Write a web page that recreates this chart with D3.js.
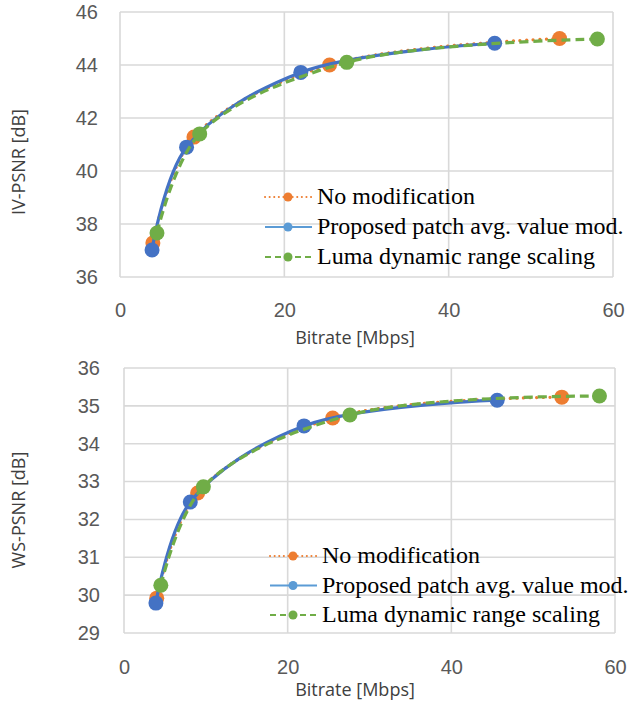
<!DOCTYPE html>
<html>
<head>
<meta charset="utf-8">
<script src="https://cdn.jsdelivr.net/npm/d3@7"></script>
<style>
  body { margin: 0; background: #fff; }
  svg { display: block; }
</style>
</head>
<body>
<div id="chartWrap"></div>
<script>
// series names (legend order) and colours
const seriesNames = ['No modification', 'Proposed patch avg. value mod.', 'Luma dynamic range scaling'];
const seriesColors = ['#ED7D31', '#4472C4', '#70AD47'];
const legendColors = ['#ED7D31', '#5B9BD5', '#70AD47'];
const seriesDash = ['0.1 6.5', null, '9 5'];

// bitrates [Mbps], same encodes for both metrics
const rateNoMod = [4.0, 9.0, 25.5, 53.5];
const rateProposed = [3.9, 8.1, 22.0, 45.6];
const rateLuma = [4.5, 9.7, 27.6, 58.1];

// IV-PSNR [dB]
const ivNoMod = [37.28, 41.28, 44.0, 45.0];
const ivProposed = [37.02, 40.9, 43.72, 44.82];
const ivLuma = [37.66, 41.4, 44.1, 44.98];

// WS-PSNR [dB]
const wsNoMod = [29.92, 32.7, 34.68, 35.23];
const wsProposed = [29.79, 32.46, 34.47, 35.15];
const wsLuma = [30.26, 32.86, 34.76, 35.26];

// tick values
const xTicks = [0, 20, 40, 60];
const ivTicks = [36, 38, 40, 42, 44, 46];
const wsTicks = [29, 30, 31, 32, 33, 34, 35, 36];

const rates = [rateNoMod, rateProposed, rateLuma];

const svg = d3
  .select('#chartWrap')
  .append('svg')
  .attr('width', 631)
  .attr('height', 704);

function drawChart(opt) {
  const x = d3.scaleLinear().domain([0, 60]).range([opt.left, opt.right]);
  const y = d3.scaleLinear().domain(opt.yDomain).range([opt.bottom, opt.top]);
  const g = svg.append('g');

  // grid (also draws the frame)
  g.append('g')
    .selectAll('line')
    .data(opt.yTicks)
    .enter()
    .append('line')
    .attr('x1', opt.left)
    .attr('x2', opt.right)
    .attr('y1', (d) => y(d))
    .attr('y2', (d) => y(d))
    .style('stroke', '#D9D9D9')
    .style('stroke-width', 1.6);
  g.append('g')
    .selectAll('line')
    .data(xTicks)
    .enter()
    .append('line')
    .attr('x1', (d) => x(d))
    .attr('x2', (d) => x(d))
    .attr('y1', opt.top)
    .attr('y2', opt.bottom)
    .style('stroke', '#D9D9D9')
    .style('stroke-width', 1.6);

  // axes: labels only
  const yAxis = g.append('g')
    .attr('transform', `translate(${opt.left},0)`)
    .call(d3.axisLeft(y).tickValues(opt.yTicks).tickFormat(d3.format('d')).tickSize(0).tickPadding(opt.yPad));
  yAxis.select('.domain').remove();
  const xAxis = g.append('g')
    .attr('transform', `translate(0,${opt.bottom})`)
    .call(d3.axisBottom(x).tickValues(xTicks).tickFormat(d3.format('d')).tickSize(0).tickPadding(opt.xPad));
  xAxis.select('.domain').remove();
  g.selectAll('.tick text')
    .style('font-family', '"Liberation Sans", Arial, sans-serif')
    .style('font-size', '20px')
    .style('fill', '#595959');

  // axis titles
  g.append('text')
    .attr('x', opt.xTitleX)
    .attr('y', opt.xTitleY)
    .attr('text-anchor', 'middle')
    .style('font-family', '"Open Sans", sans-serif')
    .style('font-size', '18px')
    .style('fill', '#404040')
    .text('Bitrate [Mbps]');
  g.append('text')
    .attr('transform', `translate(25,${opt.yTitleY}) rotate(-90)`)
    .attr('text-anchor', 'middle')
    .style('font-family', '"Open Sans", sans-serif')
    .style('font-size', '18px')
    .style('fill', '#404040')
    .text(opt.yTitle);

  // series
  const line = d3.line()
    .x((d) => x(d[0]))
    .y((d) => y(d[1]))
    .curve(d3.curveCatmullRom.alpha(0.5));

  opt.values.forEach((vals, i) => {
    const pts = rates[i].map((r, k) => [r, vals[k]]);
    const s = g.append('g');
    s.append('path')
      .datum(pts)
      .attr('d', line)
      .style('fill', 'none')
      .style('stroke', seriesColors[i])
      .style('stroke-width', 3.2)
      .style('stroke-linecap', i === 0 ? 'round' : 'butt')
      .style('stroke-dasharray', seriesDash[i]);
    s.selectAll('circle')
      .data(pts)
      .enter()
      .append('circle')
      .attr('cx', (d) => x(d[0]))
      .attr('cy', (d) => y(d[1]))
      .attr('r', 7.5)
      .style('fill', seriesColors[i]);
  });

  // legend
  const lg = g.append('g')
    .attr('transform', `translate(${opt.legendX},${opt.legendY})`);
  seriesNames.forEach((name, i) => {
    const row = lg.append('g').attr('transform', `translate(0,${i * opt.legendDy})`);
    row.append('line')
      .attr('x1', 0)
      .attr('x2', 47)
      .style('stroke', legendColors[i])
      .style('stroke-width', 2)
      .style('stroke-linecap', i === 0 ? 'round' : 'butt')
      .style('stroke-dasharray', i === 0 ? '0.1 4.5' : (i === 2 ? '6 4' : null));
    row.append('circle')
      .attr('cx', 23)
      .attr('r', 4.5)
      .style('fill', legendColors[i]);
    row.append('text')
      .attr('x', 52)
      .attr('y', 7)
      .style('font-family', '"Liberation Serif", "Times New Roman", serif')
      .style('font-size', '24px')
      .style('fill', '#000')
      .text(name);
  });
}

drawChart({
  left: 120, right: 613, top: 12, bottom: 277,
  yDomain: [36, 46], yTicks: ivTicks, yTitle: 'IV-PSNR [dB]',
  yPad: 22, xPad: 26, xTitleX: 355, xTitleY: 344, yTitleY: 162,
  values: [ivNoMod, ivProposed, ivLuma],
  legendX: 265, legendY: 197, legendDy: 30,
});

drawChart({
  left: 124, right: 615, top: 368, bottom: 633,
  yDomain: [29, 36], yTicks: wsTicks, yTitle: 'WS-PSNR [dB]',
  yPad: 24, xPad: 27, xTitleX: 355, xTitleY: 696, yTitleY: 510,
  values: [wsNoMod, wsProposed, wsLuma],
  legendX: 270, legendY: 556, legendDy: 29.5,
});
</script>
</body>
</html>
